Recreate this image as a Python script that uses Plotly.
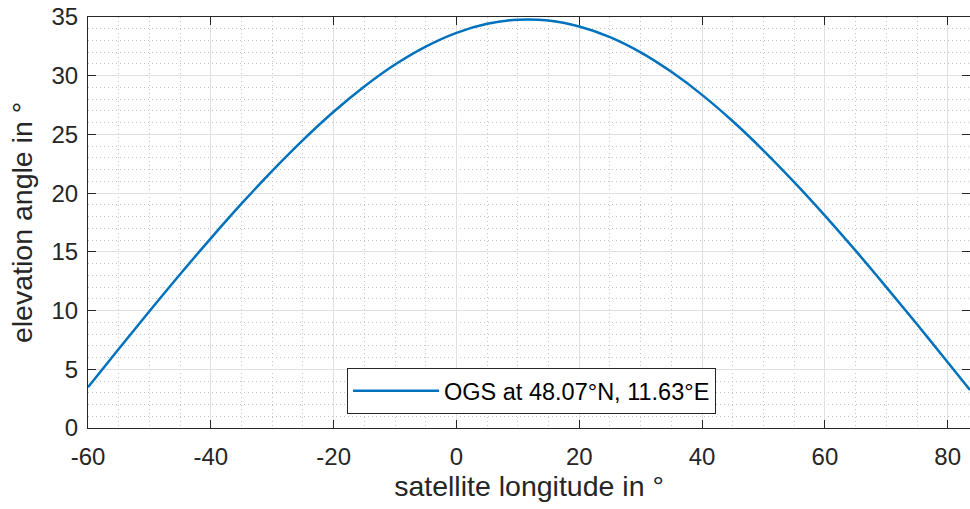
import plotly.graph_objects as go

# data
longitude = [-60, -55, -50, -45, -40, -35, -30, -25, -20, -15, -10, -5, 0, 5, 10,
             15, 20, 25, 30, 35, 40, 45, 50, 55, 60, 65, 70, 75, 80, 83.63]
elevation = [3.47, 6.73, 9.94, 13.09, 16.15, 19.10, 21.90, 24.52, 26.93, 29.08,
             30.95, 32.48, 33.65, 34.42, 34.77, 34.70, 34.19, 33.29, 31.99, 30.33,
             28.37, 26.12, 23.63, 20.94, 18.09, 15.10, 12.00, 8.83, 5.60, 3.23]
series_name = "OGS at 48.07°N, 11.63°E"
x_ticks = [-60, -40, -20, 0, 20, 40, 60, 80]
x_tick_labels = ["-60", "-40", "-20", "0", "20", "40", "60", "80"]
y_ticks = [0, 5, 10, 15, 20, 25, 30, 35]
y_tick_labels = ["0", "5", "10", "15", "20", "25", "30", "35"]

FONT = "Liberation Sans, Arial, Helvetica, sans-serif"
AX = "#262626"
GRID = "#e0e0e0"
MINOR = "#c4c4c4"

fig = go.Figure()
fig.add_trace(go.Scatter(x=longitude, y=elevation, mode="lines", name=series_name,
                         line=dict(color="#0072BD", width=2.5, shape="spline", smoothing=1.0)))

axis_common = dict(
    showline=True, linecolor=AX, linewidth=1, mirror="ticks",
    ticks="inside", ticklen=8, tickcolor=AX, tickwidth=1,
    showgrid=True, gridcolor=GRID, gridwidth=1,
    zeroline=False, automargin=False, ticklabeloverflow="allow",
    tickfont=dict(family=FONT, size=24, color=AX),
)

fig.update_xaxes(range=[-60, 83.63], tickvals=x_ticks, ticktext=x_tick_labels,
                 minor=dict(dtick=5, showgrid=True, gridcolor=MINOR, griddash="1px,3px", ticks=""),
                 title=dict(text="satellite longitude in °", font=dict(family=FONT, size=28.5, color=AX), standoff=5),
                 ticklabelstandoff=7,
                 **axis_common)
fig.update_yaxes(range=[0, 35], tickvals=y_ticks, ticktext=y_tick_labels,
                 minor=dict(dtick=1, showgrid=True, gridcolor=MINOR, griddash="1px,3px", ticks=""),
                 title=dict(text="elevation angle in °", font=dict(family=FONT, size=28.5, color=AX), standoff=10),
                 ticklabelstandoff=4,
                 **axis_common)

fig.update_layout(
    width=970, height=509,
    margin=dict(l=88, r=0, t=17, b=81),
    paper_bgcolor="white", plot_bgcolor="white",
    font=dict(family=FONT, color=AX),
    showlegend=True,
    legend=dict(x=0.2937, xanchor="left", y=0.034, yanchor="bottom",
                bgcolor="white", bordercolor=AX, borderwidth=1,
                font=dict(family=FONT, size=23.5, color="#000000"), itemwidth=86),
)

# remove the default 8px page margin so the 970x509 figure fills the window exactly
fig.write_html("out.html", config={"displayModeBar": False},
               post_script="document.body.style.margin='0px';document.body.style.overflow='hidden';")
